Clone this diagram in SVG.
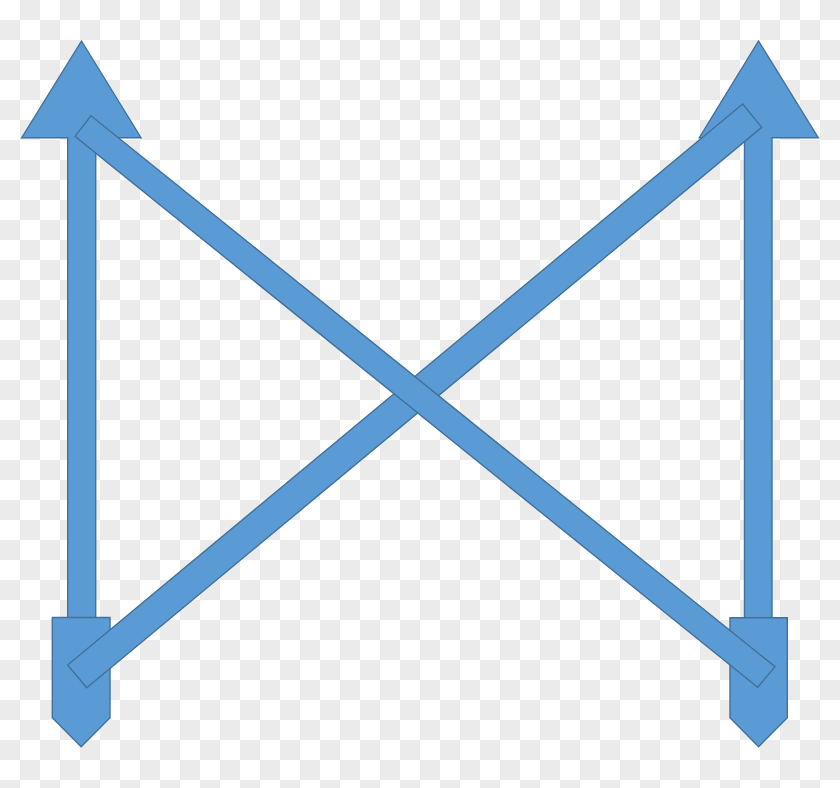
<svg xmlns="http://www.w3.org/2000/svg" width="840" height="788" viewBox="0 0 840 788">
  <style>
    .shape { fill: #5b9bd5; stroke: #41719c; stroke-width: 1.4; stroke-linejoin: miter; }
  </style>
  <defs>
    <pattern id="checker" x="0" y="0" width="40" height="40" patternUnits="userSpaceOnUse">
      <rect x="0" y="0" width="40" height="40" fill="#ffffff"/>
      <rect x="20" y="0" width="20" height="20" fill="#ebebeb"/>
      <rect x="0" y="20" width="20" height="20" fill="#ebebeb"/>
    </pattern>
  </defs>
  <rect x="0" y="0" width="840" height="788" fill="url(#checker)"/>

  <g id="left-up-arrow">
    <polygon class="shape" points="81.5,41 141,137.7 95.7,137.7 95.7,618 67.7,618 67.7,137.7 21.7,137.7"/>
  </g>
  <g id="right-up-arrow">
    <polygon class="shape" points="758.5,41 818.3,137.7 772,137.7 772,618 744.5,618 744.5,137.7 699.3,137.7"/>
  </g>
  <g id="left-base">
    <polygon class="shape" points="52.3,617.5 110,617.5 110,717.7 81.2,746.7 52.3,717.7"/>
  </g>
  <g id="right-base">
    <polygon class="shape" points="730,617.7 787.3,617.7 787.3,717.7 758.6,746.7 730,717.7"/>
  </g>

  <g id="connectors">
    <polygon id="bar-bl-tr" class="shape" points="67.7,665 742.7,104 761.7,127.3 86.7,687.7"/>
    <polygon id="bar-tl-br" class="shape" points="91,115.7 775,666.7 757.7,687.3 75,136.3"/>
  </g>
</svg>
